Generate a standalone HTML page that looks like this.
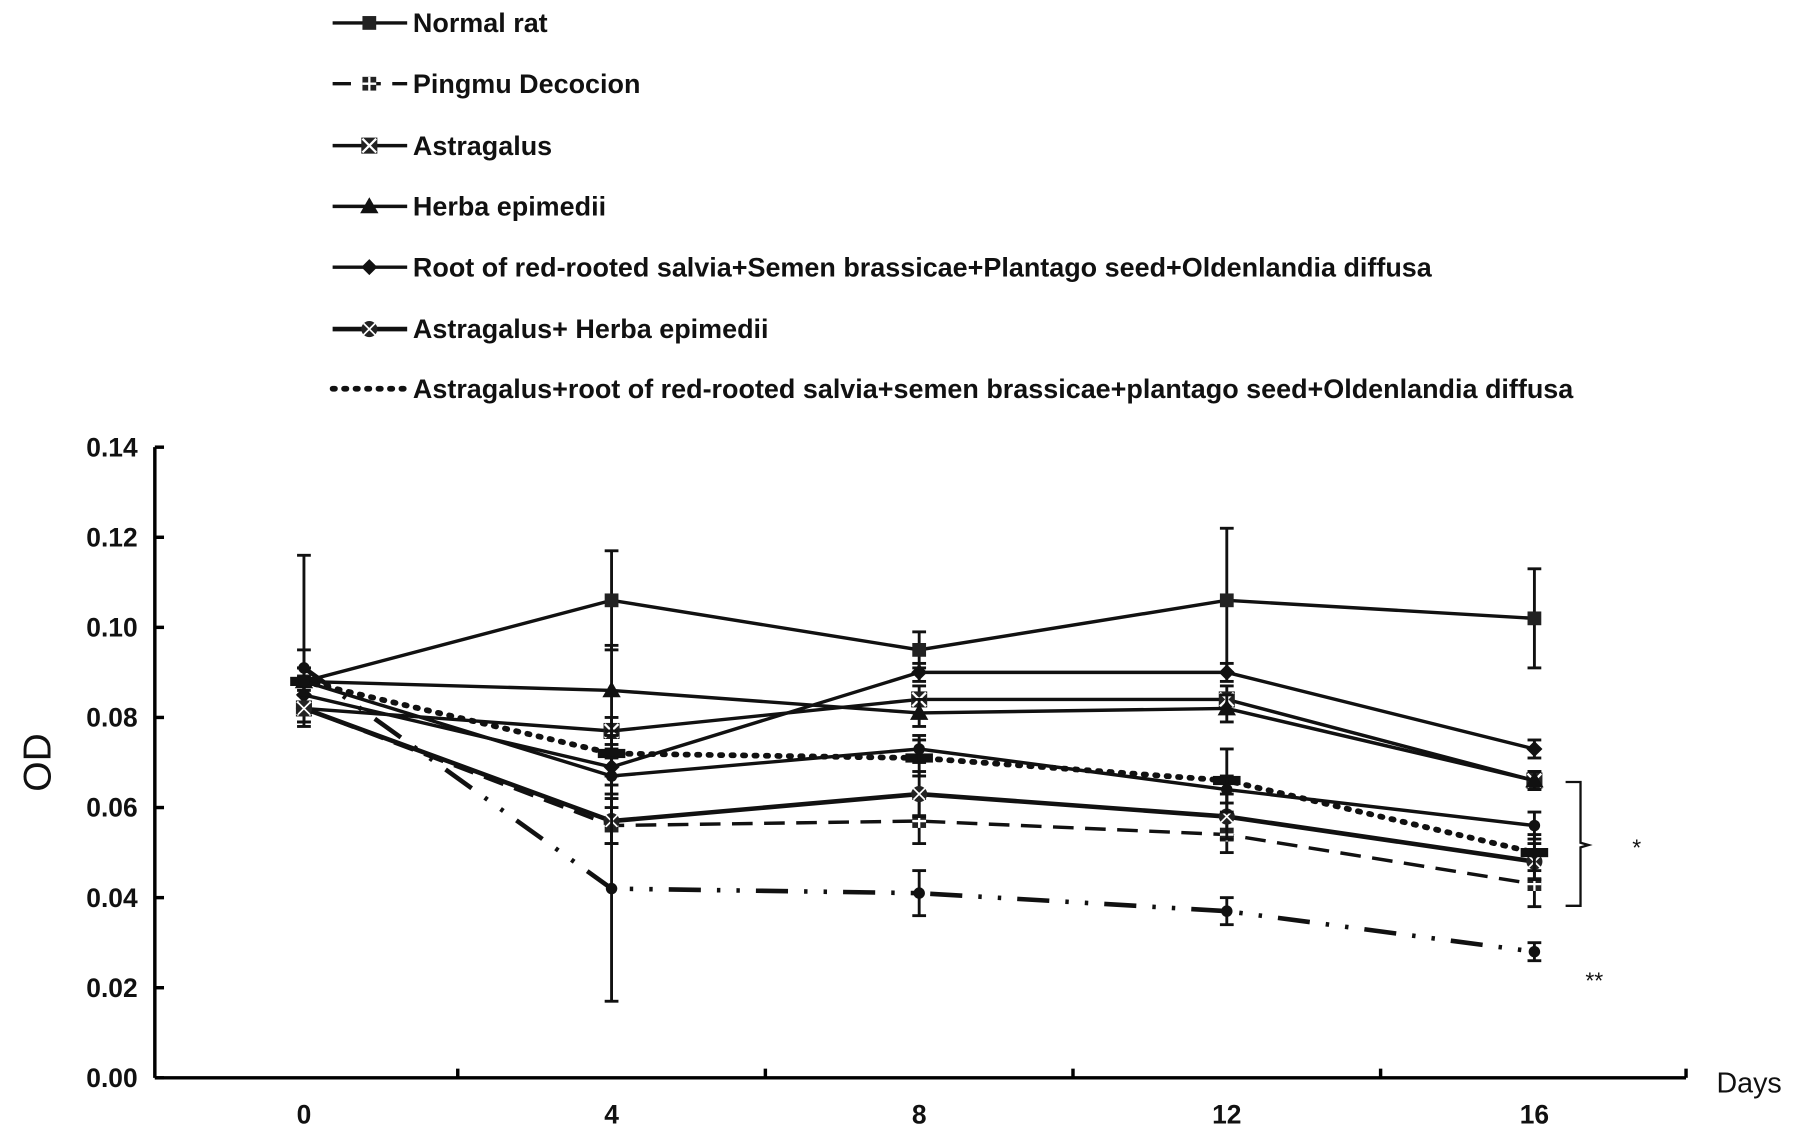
<!DOCTYPE html>
<html><head><meta charset="utf-8">
<style>
html,body{margin:0;padding:0;background:#fff;}
svg{display:block;}
text{font-family:"Liberation Sans",Arial,sans-serif;fill:#111;}
</style></head>
<body>
<svg id="chart" width="1795" height="1134" viewBox="0 0 1565 989" preserveAspectRatio="none">
<g id="legend"></g>
<g id="axes"></g>
<g id="series"></g>
<g id="annot"></g>
</svg>
<script>
const days = [0, 4, 8, 12, 16];
const yTicks = [0, 0.02, 0.04, 0.06, 0.08, 0.10, 0.12, 0.14];
const yTickLabels = ["0.00","0.02","0.04","0.06","0.08","0.10","0.12","0.14"];
const xTickLabels = ["0","4","8","12","16"];
const names = ["Normal rat","Pingmu Decocion","Astragalus","Herba epimedii","Root of red-rooted salvia+Semen brassicae+Plantago seed+Oldenlandia diffusa","Astragalus+ Herba epimedii","Astragalus+root of red-rooted salvia+semen brassicae+plantago seed+Oldenlandia diffusa","Model group","Other group"];
const normalVals = [0.088, 0.106, 0.095, 0.106, 0.102];
const normalErr = [0.028, 0.011, 0.004, 0.016, 0.011];
const normalErrLow = [0.006, 0.011, 0.004, 0.016, 0.011];
const pingmuVals = [0.082, 0.056, 0.057, 0.054, 0.043];
const pingmuErr = [0.003, 0.004, 0.005, 0.004, 0.005];
const astraVals = [0.082, 0.077, 0.084, 0.084, 0.066];
const astraErr = [0.004, 0.003, 0.003, 0.003, 0.002];
const herbaVals = [0.088, 0.086, 0.081, 0.082, 0.066];
const herbaErr = [0.003, 0.010, 0.003, 0.003, 0.002];
const rootVals = [0.085, 0.069, 0.090, 0.090, 0.073];
const rootErr = [0.004, 0.004, 0.002, 0.002, 0.002];
const ahVals = [0.082, 0.057, 0.063, 0.058, 0.048];
const ahErr = [0.003, 0.005, 0.005, 0.005, 0.004];
const comboVals = [0.088, 0.072, 0.071, 0.066, 0.050];
const comboErr = [0.003, 0.005, 0.004, 0.007, 0.004];
const modelVals = [0.091, 0.042, 0.041, 0.037, 0.028];
const modelErr = [0.004, 0.025, 0.005, 0.003, 0.002];
const otherVals = [0.088, 0.067, 0.073, 0.064, 0.056];
const otherErr = [0.003, 0.004, 0.003, 0.003, 0.003];

const NS = "http://www.w3.org/2000/svg";
const X0 = 265, XPD = 67.05, Y0 = 940, YP = 550/0.14;
function xs(d){ return X0 + d*XPD; }
function ys(v){ return Y0 - v*YP; }
function mk(tag, attrs, parent){ const e = document.createElementNS(NS, tag); for (const k in attrs) e.setAttribute(k, attrs[k]); parent.appendChild(e); return e; }

const axes = document.getElementById('axes');
let a = mk('line',{x1:135,y1:390,x2:135,y2:940,stroke:'#000','stroke-width':3},axes);
 
a = mk('line',{x1:135,y1:940,x2:1470,y2:940,stroke:'#000','stroke-width':3},axes);
 
mk('line',{x1:1470,y1:932,x2:1470,y2:940,stroke:'#000','stroke-width':3},axes);
yTicks.forEach((v,i)=>{
  mk('line',{x1:135,y1:ys(v),x2:143,y2:ys(v),stroke:'#000','stroke-width':3},axes);
  const t = mk('text',{x:120,y:ys(v)+8,'text-anchor':'end','font-size':23,'font-weight':'bold'},axes);
  t.textContent = yTickLabels[i];
   
});
for (let d = 2; d <= 14; d += 4) mk('line',{x1:xs(d),y1:932,x2:xs(d),y2:940,stroke:'#000','stroke-width':3},axes);
days.forEach((d,i)=>{
  const t = mk('text',{x:xs(d),y:980,'text-anchor':'middle','font-size':23,'font-weight':'bold'},axes);
  t.textContent = xTickLabels[i];
   
});
let t = mk('text',{x:1525,y:953,'text-anchor':'middle','font-size':25},axes);
t.textContent='Days';  
t = mk('text',{x:0,y:0,'text-anchor':'middle','font-size':34,transform:'translate(44,665) rotate(-90)'},axes);
t.textContent='OD';  

function marker(g, type, x, y){
  if (type==='square') mk('rect',{x:x-6,y:y-6,width:12,height:12,fill:'#222'},g);
  else if (type==='sqcross'){ mk('rect',{x:x-6,y:y-6,width:12,height:12,fill:'#222'},g); mk('path',{d:`M${x-6} ${y}H${x+6}M${x} ${y-6}V${y+6}`,stroke:'#fff','stroke-width':2},g); }
  else if (type==='xsq'){ mk('rect',{x:x-7,y:y-7,width:14,height:14,fill:'#222'},g); mk('path',{d:`M${x-6} ${y-6}L${x+6} ${y+6}M${x+6} ${y-6}L${x-6} ${y+6}`,stroke:'#fff','stroke-width':2},g); }
  else if (type==='tri') mk('path',{d:`M${x} ${y-8}L${x+8} ${y+6}L${x-8} ${y+6}Z`,fill:'#111'},g);
  else if (type==='diamond') mk('path',{d:`M${x} ${y-7}L${x+7} ${y}L${x} ${y+7}L${x-7} ${y}Z`,fill:'#111'},g);
  else if (type==='circx'){ mk('circle',{cx:x,cy:y,r:7,fill:'#222'},g); mk('path',{d:`M${x-5} ${y-5}L${x+5} ${y+5}M${x+5} ${y-5}L${x-5} ${y+5}`,stroke:'#fff','stroke-width':1.5},g); }
  else if (type==='dot') mk('circle',{cx:x,cy:y,r:5,fill:'#111'},g);
  else if (type==='bar') mk('rect',{x:x-12,y:y-4,width:24,height:8,fill:'#111'},g);
}
const series = [
  {n:0, v:normalVals, e:normalErr, el:normalErrLow, dash:'', w:3, m:'square'},
  {n:1, v:pingmuVals, e:pingmuErr, dash:'18 10', w:3, m:'sqcross'},
  {n:2, v:astraVals, e:astraErr, dash:'', w:3, m:'xsq'},
  {n:3, v:herbaVals, e:herbaErr, dash:'', w:3, m:'tri'},
  {n:4, v:rootVals, e:rootErr, dash:'', w:3, m:'diamond'},
  {n:5, v:ahVals, e:ahErr, dash:'', w:4, m:'circx'},
  {n:6, v:comboVals, e:comboErr, dash:'2 8', w:5, m:'bar', cap:'round'},
  {n:7, v:modelVals, e:modelErr, dash:'28 14 3 14 3 14', w:4, m:'dot'},
  {n:8, v:otherVals, e:otherErr, dash:'', w:3, m:'dot'}
];
const sg = document.getElementById('series');
series.forEach(s=>{
  const g = mk('g',{},sg);
  
  
  s.v.forEach((v,i)=>{
    const x = xs(days[i]);
    const lo = s.el ? s.el[i] : s.e[i];
    mk('line',{x1:x,y1:ys(v+s.e[i]),x2:x,y2:ys(v-lo),stroke:'#111','stroke-width':2.5},g);
    mk('line',{x1:x-6,y1:ys(v+s.e[i]),x2:x+6,y2:ys(v+s.e[i]),stroke:'#111','stroke-width':2.5},g);
    mk('line',{x1:x-6,y1:ys(v-lo),x2:x+6,y2:ys(v-lo),stroke:'#111','stroke-width':2.5},g);
  });
  const pts = s.v.map((v,i)=>xs(days[i])+','+ys(v)).join(' ');
  const p = mk('polyline',{points:pts,fill:'none',stroke:'#111','stroke-width':s.w},g);
  if (s.dash) p.setAttribute('stroke-dasharray', s.dash);
  if (s.cap) p.setAttribute('stroke-linecap', s.cap);
  s.v.forEach((v,i)=>marker(g, s.m, xs(days[i]), ys(v)));
});

const lg = document.getElementById('legend');
const legendRows = [20,73,127,180,233,287,339];
legendRows.forEach((y,i)=>{
  const s = series[i];
  const g = mk('g',{},lg);
   
  const l = mk('line',{x1:290,y1:y,x2:355,y2:y,stroke:'#111','stroke-width':s.w},g);
  if (s.dash) l.setAttribute('stroke-dasharray', i===6 ? '2 8' : '16 10');
  if (s.cap) l.setAttribute('stroke-linecap', s.cap);
  if (i!==6) marker(g, s.m, 322, y);
  const tx = mk('text',{x:360,y:y+8,'font-size':23.5,'font-weight':'bold'},g);
  tx.textContent = names[i];
});

const an = document.getElementById('annot');
const br = mk('path',{d:'M1365 682 H1378 V735 L1385 737 L1378 739 V790 H1365',fill:'none',stroke:'#111','stroke-width':2},an);
 
t = mk('text',{x:1427,y:746,'text-anchor':'middle','font-size':20},an); t.textContent='*';
 
t = mk('text',{x:1390,y:862,'text-anchor':'middle','font-size':20},an); t.textContent='**';
 
</script>
</body></html>
